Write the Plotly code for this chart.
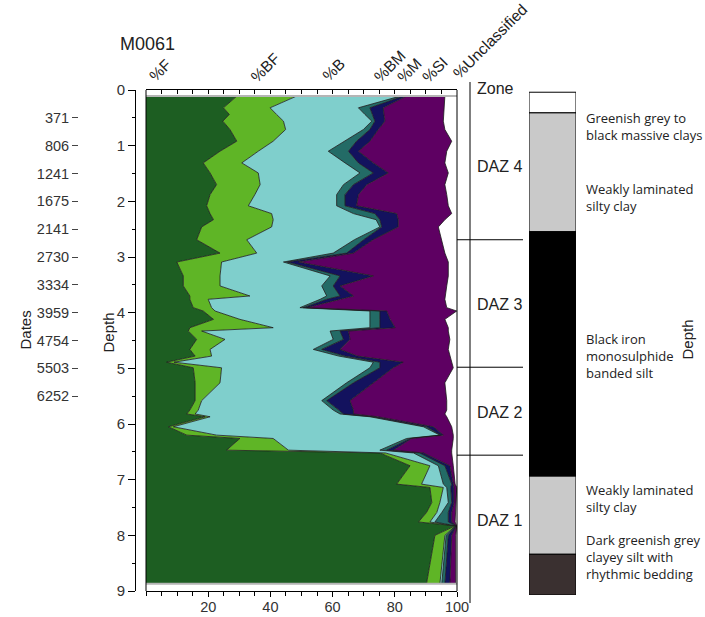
import plotly.graph_objects as go

W, H = 705, 617
def X(px): return px / W
def Y(py): return 1 - py / H

# ---------------- data ----------------
depth = [0.11, 0.32, 0.44, 0.56, 0.71, 0.92, 1.10, 1.31, 1.49, 1.70, 1.88, 2.08, 2.22, 2.33, 2.46,
         2.69, 2.93, 3.09, 3.34, 3.52, 3.70, 3.76, 3.91, 3.97, 4.12, 4.27, 4.33, 4.48, 4.66, 4.78,
         4.89, 4.99, 5.26, 5.58, 5.75, 5.82, 5.87, 6.05, 6.20, 6.26, 6.47, 6.52, 6.75, 7.08, 7.14,
         7.41, 7.59, 7.76, 7.83, 8.00, 8.87]
pct_F = [29.2, 24.9, 26.8, 24.7, 27.0, 29.2, 23.8, 18.4, 20.6, 22.7, 20.6, 19.5, 20.6, 21.7, 17.9,
         16.3, 23.8, 9.9, 12.0, 12.0, 14.1, 14.1, 15.2, 18.4, 21.7, 14.1, 13.6, 16.3, 14.1, 15.8,
         6.6, 15.2, 15.8, 15.8, 14.1, 13.1, 19.0, 7.2, 13.1, 30.2, 25.9, 75.2, 84.9, 80.6, 91.3,
         91.9, 90.2, 87.6, 99.4, 92.9, 90.2]
pct_BF = [19.2, 15.0, 15.2, 19.5, 17.9, 11.7, 12.3, 12.4, 15.5, 14.0, 14.4, 13.4, 19.8, 19.2, 22.5,
          16.1, 11.8, 14.4, 11.8, 11.8, 19.3, 5.9, 5.9, 3.8, 8.5, 26.8, 4.3, 9.1, 6.5, 5.3,
          2.4, 9.1, 8.0, 2.1, 2.7, 2.7, 1.6, 1.6, 9.6, 10.7, 19.9, 1.8, 6.4, 8.0, 4.3,
          2.6, 3.3, 3.7, 0.1, 3.2, 4.3]
pct_B = [33.3, 28.4, 28.4, 28.4, 25.0, 23.1, 22.5, 33.2, 32.7, 26.8, 26.3, 28.4, 26.3, 33.1, 34.8,
         34.6, 24.6, 19.9, 35.4, 32.7, 24.7, 36.0, 28.4, 49.8, 41.8, 31.1, 41.3, 34.8, 33.2, 40.9,
         64.1, 47.7, 40.7, 38.6, 43.4, 46.6, 51.4, 80.4, 71.8, 42.9, 29.4, 9.0, 2.7, 7.0, 1.1,
         2.7, 1.6, 1.6, 0.1, 0.4, 0.6]
pct_BM = [1.0, 3.7, 2.4, 1.0, 2.1, 3.7, 6.5, 4.3, 4.3, 3.2, 2.7, 2.7, 6.9, 1.2, 0.6,
          3.0, 4.3, 1.3, 3.2, 3.7, 4.3, 2.1, 1.1, 3.2, 3.2, 3.2, 3.2, 3.3, 2.7, 2.0,
          2.1, 3.2, 2.2, 1.6, 1.8, 1.1, 1.0, 1.0, 0.4, 1.1, 2.2, 2.0, 2.1, 2.7, 1.3,
          1.1, 2.1, 4.3, 0.1, 0.7, 1.0]
pct_M = [1.1, 4.3, 3.7, 3.2, 2.7, 4.3, 3.2, 4.8, 4.8, 4.3, 4.3, 3.7, 7.0, 5.9, 5.3,
         3.0, 2.2, 3.5, 10.7, 2.2, 4.3, 4.3, 1.1, 2.2, 3.3, 4.9, 2.7, 2.1, 5.9, 4.0,
         7.5, 4.3, 6.4, 7.5, 4.7, 3.2, 1.5, 2.2, 0.7, 0.5, 2.1, 1.2, 1.6, 0.3, 1.0,
         0.7, 1.1, 1.1, 0.1, 1.1, 1.6]
pct_SI = [12.3, 19.5, 19.2, 18.8, 21.4, 26.3, 28.4, 23.0, 19.3, 25.1, 28.4, 29.5, 17.7, 15.0, 12.9,
          22.1, 29.4, 48.2, 24.1, 34.3, 29.4, 33.7, 45.0, 22.5, 17.6, 17.1, 32.1, 32.1, 34.8, 29.7,
          15.6, 19.3, 23.0, 31.1, 30.0, 29.4, 22.2, 5.9, 3.2, 13.4, 18.8, 9.1, 1.1, 0.8, 0.9,
          0.6, 1.1, 1.1, 0.1, 1.3, 1.9]

series_labels = ["%F", "%BF", "%B", "%BM", "%M", "%SI", "%Unclassified"]
series_colors = ["#1d5e22", "#5fb526", "#7fcfcc", "#236b66", "#13125e", "#5e0062"]

date_depths = [0.5, 1.0, 1.5, 2.0, 2.5, 3.0, 3.5, 4.0, 4.5, 5.0, 5.5]
date_labels = ["371", "806", "1241", "1675", "2141", "2730", "3334", "3959", "4754", "5503", "6252"]

zone_bounds = [2.69, 4.98, 6.56]
zone_names = ["DAZ 4", "DAZ 3", "DAZ 2", "DAZ 1"]
zone_label_depths = [1.38, 3.85, 5.79, 7.74]

litho_tops = [0.04, 0.41, 2.54, 6.92, 8.32]
litho_bottoms = [0.41, 2.54, 6.92, 8.32, 9.05]
litho_colors = ["#ffffff", "#c9c9c9", "#000000", "#c9c9c9", "#3a3030"]
litho_labels = ["Greenish grey to<br>black massive clays", "Weakly laminated<br>silty clay",
                "Black iron<br>monosulphide<br>banded silt", "Weakly laminated<br>silty clay",
                "Dark greenish grey<br>clayey silt with<br>rhythmic bedding"]
litho_label_py = [107, 178, 356, 518, 585]

FONT = "Arial, Liberation Sans, sans-serif"
FONT2 = "Open Sans, Lato, sans-serif"

fig = go.Figure()

for name, vals, col in zip(series_labels, [pct_F, pct_BF, pct_B, pct_BM, pct_M, pct_SI], series_colors):
    fig.add_trace(go.Scatter(x=vals, y=depth, mode="lines", stackgroup="taxa", orientation="h",
                             line=dict(color="#1a1a1a", width=0.8), fillcolor=col, name=name,
                             showlegend=False, hoverinfo="skip", xaxis="x", yaxis="y"))

for d in (depth[0], depth[-1]):
    fig.add_trace(go.Scatter(x=[0, 100], y=[d, d], mode="lines", line=dict(color="#b5b5b5", width=2),
                             showlegend=False, hoverinfo="skip", xaxis="x", yaxis="y"))

fig.add_trace(go.Scatter(x=[None], y=[None], xaxis="x2", yaxis="y", showlegend=False))
fig.add_trace(go.Scatter(x=[None], y=[None], xaxis="x", yaxis="y2", showlegend=False))

fig.add_trace(go.Bar(x=[0] * len(litho_tops), y=[b - t for t, b in zip(litho_tops, litho_bottoms)],
                     base=litho_tops, width=1, marker=dict(color=litho_colors, line=dict(color="#000", width=1)),
                     xaxis="x4", yaxis="y3", showlegend=False, hoverinfo="skip"))

dom_x = [X(146), X(457)]
dom_y = [Y(591), Y(90)]

fig.update_layout(
    width=W, height=H, margin=dict(l=0, r=0, t=0, b=0, autoexpand=False),
    paper_bgcolor="white", plot_bgcolor="rgba(0,0,0,0)",
    font=dict(family=FONT, color="#222", size=14),
    showlegend=False, barmode="overlay",
    xaxis=dict(domain=dom_x, range=[0, 100], anchor="y", automargin=False, showline=True, linecolor="#000", linewidth=1,
               ticks="outside", tickvals=[0, 20, 40, 60, 80, 100], ticktext=["", "20", "40", "60", "80", "100"],
               ticklen=5, tickcolor="#000", showgrid=False, zeroline=False, ticklabelstandoff=-2,
               minor=dict(ticks="outside", tickvals=list(range(0, 101, 5)), ticklen=4, tickcolor="#000", showgrid=False),
               tickfont=dict(size=14.5, family=FONT, color="#333")),
    xaxis2=dict(domain=dom_x, range=[0, 100], anchor="y", overlaying="x", side="top", automargin=False, showline=True,
                linecolor="#000", linewidth=1, ticks="inside", dtick=5, tick0=0, ticklen=4, tickcolor="#000",
                showticklabels=False, showgrid=False, zeroline=False),
    yaxis=dict(domain=dom_y, range=[9, 0], anchor="free", position=X(135), automargin=False, showline=True, linecolor="#000",
               linewidth=1, ticks="outside", dtick=1, tick0=0, ticklen=7, tickcolor="#000", showgrid=False,
               zeroline=False, minor=dict(ticks="outside", dtick=0.5, tick0=0, ticklen=3, tickcolor="#000", showgrid=False),
               tickfont=dict(size=15, family=FONT, color="#333")),
    yaxis2=dict(domain=dom_y, range=[9, 0], overlaying="y", anchor="free", position=X(78), automargin=False, showline=False,
                ticks="outside", tickvals=date_depths, ticktext=date_labels, ticklen=6, tickcolor="#444",
                showgrid=False, zeroline=False, tickfont=dict(size=14.5, family=FONT, color="#333")),
    xaxis4=dict(domain=[X(529), X(576)], range=[-0.5, 0.5], anchor="y3", visible=False, automargin=False),
    yaxis3=dict(domain=[Y(595), Y(90)], range=[9.05, 0], anchor="x4", visible=False, automargin=False),
)

shapes = []
for xv in (0, 1):
    shapes.append(dict(type="line", xref="x domain", yref="y domain", x0=xv, x1=xv, y0=0, y1=1,
                       line=dict(color="#000", width=1)))
shapes.append(dict(type="line", xref="paper", yref="paper", x0=X(470), x1=X(470), y0=Y(603), y1=Y(82),
                   line=dict(color="#000", width=1)))
for b in zone_bounds:
    shapes.append(dict(type="line", xref="paper", yref="y", x0=X(457), x1=X(523), y0=b, y1=b,
                       line=dict(color="#000", width=1)))
fig.update_layout(shapes=shapes)

ann = []
ann.append(dict(text="M0061", x=X(118), y=Y(32), xref="paper", yref="paper", showarrow=False,
                font=dict(size=18, family=FONT, color="#222")))
label_pos = [(160, 71), (265, 67), (334, 70), (389, 66), (410, 70), (435, 70), (490, 42)]
for lab, (px, py) in zip(series_labels, label_pos):
    ann.append(dict(text=lab, x=X(px), y=Y(py), xref="paper", yref="paper", xanchor="center", yanchor="middle",
                    showarrow=False, textangle=-45, font=dict(size=15.5, family=FONT, color="#222")))
ann.append(dict(text="Zone", x=X(475), y=Y(78), xref="paper", yref="paper", xanchor="left", showarrow=False,
                font=dict(size=16, family=FONT, color="#222")))
for nm, d in zip(zone_names, zone_label_depths):
    ann.append(dict(text=nm, x=X(475), y=d, xref="paper", yref="y", xanchor="left", showarrow=False,
                    font=dict(size=16, family=FONT, color="#222")))
for lab, py in zip(litho_labels, litho_label_py):
    ann.append(dict(text=lab, x=X(584), y=Y(py), xref="paper", yref="paper", xanchor="left", align="left",
                    showarrow=False, font=dict(size=13, family=FONT2, color="#222")))
ann.append(dict(text="Depth", x=X(697), y=Y(340), xref="paper", yref="paper", showarrow=False, textangle=-90,
                font=dict(size=15, family=FONT, color="#222")))
ann.append(dict(text="Depth", x=X(97), y=Y(333), xref="paper", yref="paper", showarrow=False, textangle=-90,
                font=dict(size=15, family=FONT, color="#222")))
ann.append(dict(text="Dates", x=X(15), y=Y(330), xref="paper", yref="paper", showarrow=False, textangle=-90,
                font=dict(size=15, family=FONT, color="#222")))
fig.update_layout(annotations=ann)

fig.write_html("out.html", config={"displayModeBar": False},
               post_script="document.body.style.margin='0px';")
